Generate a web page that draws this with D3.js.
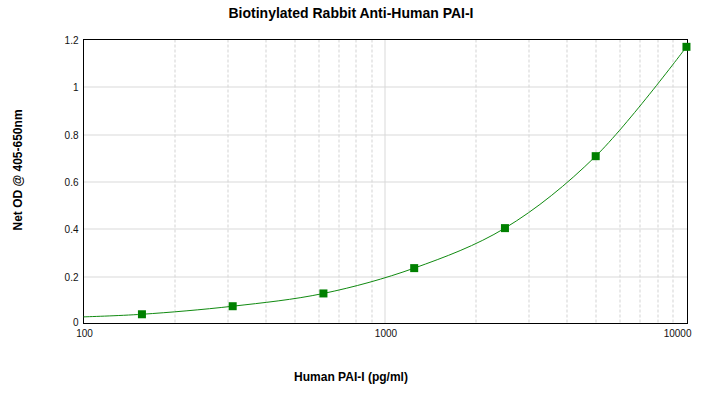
<!DOCTYPE html>
<html>
<head>
<meta charset="utf-8">
<script src="https://cdn.jsdelivr.net/npm/d3@7"></script>
<style>
  body { margin: 0; background: #fff; }
  svg { display: block; font-family: "Liberation Sans", Arial, sans-serif; }
  .grid-h line { stroke: #d9d9d9; }
  .grid-v line { stroke: #d3d3d3; stroke-dasharray: 3,2; }
  .grid-v line.major { stroke-dasharray: none; stroke: #d9d9d9; }
  .tick-label { font-size: 10px; fill: #111; }
  .axis-title { font-size: 12px; font-weight: bold; fill: #000; }
  .chart-title { font-size: 14px; font-weight: bold; fill: #000; }
</style>
</head>
<body>
<svg id="chart" width="705" height="404"></svg>
<script>
'use strict';

// standards (pg/ml) and measured net OD
const concentrations = [156.25, 312.5, 625, 1250, 2500, 5000, 10000];
const netOD = [0.039, 0.073, 0.127, 0.234, 0.403, 0.707, 1.169];

// fitted curve
const curveX = [100, 156.25, 312.5, 625, 1250, 2500, 5000, 10000];
const curveY = [0.028, 0.039, 0.073, 0.127, 0.234, 0.403, 0.707, 1.169];

const yTicks = [0, 0.2, 0.4, 0.6, 0.8, 1, 1.2];
const xTickLabels = [100, 1000, 10000];
const xMinor = [200, 300, 400, 500, 600, 700, 800, 900, 2000, 3000, 4000, 5000, 6000, 7000, 8000, 9000];

const margin = {top: 39.5, right: 17.5, bottom: 80.5, left: 83.5};
const width = 705, height = 404;
const innerW = width - margin.left - margin.right;
const innerH = height - margin.top - margin.bottom;

const svg = d3.select('#chart');

const x = d3.scaleLog()
    .domain([100, 10080])
    .range([0, innerW]);

const y = d3.scaleLinear()
    .domain([0, 1.2])
    .range([innerH, 0]);

const g = svg.append('g')
    .attr('transform', `translate(${margin.left}, ${margin.top})`);

// vertical grid: dashed minors, solid at 1000
g.append('g')
    .attr('class', 'grid-v')
    .selectAll('line')
    .data(xMinor.concat([1000]))
    .enter()
    .append('line')
        .attr('class', d => (d === 1000 ? 'major' : null))
        .attr('x1', d => Math.round(x(d)) + 0.5)
        .attr('x2', d => Math.round(x(d)) + 0.5)
        .attr('y1', 0)
        .attr('y2', innerH);

// horizontal grid
g.append('g')
    .attr('class', 'grid-h')
    .selectAll('line')
    .data(yTicks.slice(1, -1))
    .enter()
    .append('line')
        .attr('x1', 0)
        .attr('x2', innerW)
        .attr('y1', d => Math.round(y(d)) + 0.5)
        .attr('y2', d => Math.round(y(d)) + 0.5);

// frame
g.append('rect')
    .attr('x', 0)
    .attr('y', 0)
    .attr('width', innerW)
    .attr('height', innerH)
    .style('fill', 'none')
    .style('stroke', '#000')
    .style('stroke-width', 1);

// y tick labels (the 0 sits a little higher so it clears the 100)
g.append('g')
    .selectAll('text')
    .data(yTicks)
    .enter()
    .append('text')
        .attr('class', 'tick-label')
        .attr('x', -5)
        .attr('y', d => y(d))
        .attr('dy', d => (d === 0 ? '0.25em' : '0.45em'))
        .attr('text-anchor', 'end')
        .text(d => d);

// x tick labels
g.append('g')
    .selectAll('text')
    .data(xTickLabels)
    .enter()
    .append('text')
        .attr('class', 'tick-label')
        .attr('x', d => (d === 10000 ? x(d) + 5 : x(d) + 1))
        .attr('y', innerH + 13.5)
        .attr('text-anchor', d => (d === 10000 ? 'end' : 'middle'))
        .text(d => d);

// fitted curve
const line = d3.line()
    .x(d => x(d[0]))
    .y(d => y(d[1]))
    .curve(d3.curveCatmullRom.alpha(0.5));

g.append('path')
    .datum(d3.zip(curveX, curveY))
    .attr('d', line)
    .style('fill', 'none')
    .style('stroke', '#108a10')
    .style('stroke-width', 1);

// markers
const size = 8;
g.append('g')
    .selectAll('rect')
    .data(d3.zip(concentrations, netOD))
    .enter()
    .append('rect')
        .attr('x', d => x(d[0]) - size / 2)
        .attr('y', d => y(d[1]) - size / 2)
        .attr('width', size)
        .attr('height', size)
        .style('fill', '#008000');

// titles
svg.append('text')
    .attr('class', 'chart-title')
    .attr('x', 351)
    .attr('y', 18)
    .attr('text-anchor', 'middle')
    .text('Biotinylated Rabbit Anti-Human PAI-I');

svg.append('text')
    .attr('class', 'axis-title')
    .attr('x', 351)
    .attr('y', 381)
    .attr('text-anchor', 'middle')
    .text('Human PAI-I (pg/ml)');

svg.append('text')
    .attr('class', 'axis-title')
    .attr('transform', 'translate(22, 170) rotate(-90)')
    .attr('text-anchor', 'middle')
    .text('Net OD @ 405-650nm');
</script>
</body>
</html>
